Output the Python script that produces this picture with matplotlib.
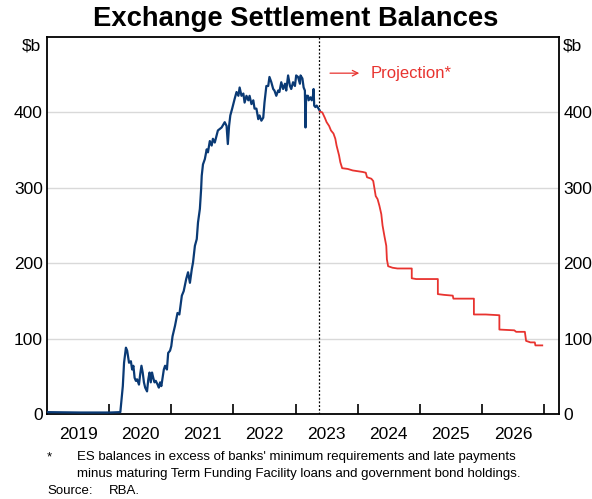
import numpy as np
import matplotlib.pyplot as plt

# ------------------------------------------------------------
# Data (decimal years, $b)
# ------------------------------------------------------------

actual_year = [
    2019.00, 2019.53, 2020.02, 2020.18, 2020.22, 2020.24, 2020.27, 2020.29,
    2020.32, 2020.35, 2020.37, 2020.39, 2020.41, 2020.43, 2020.45, 2020.48,
    2020.50, 2020.52, 2020.54, 2020.56, 2020.58, 2020.61, 2020.63, 2020.65,
    2020.67, 2020.69, 2020.71, 2020.73, 2020.75, 2020.78, 2020.80, 2020.82,
    2020.84, 2020.86, 2020.88, 2020.90, 2020.93, 2020.95, 2020.98, 2021.00,
    2021.02, 2021.06, 2021.10, 2021.13, 2021.17, 2021.20, 2021.24, 2021.27,
    2021.30, 2021.33, 2021.35, 2021.38, 2021.41, 2021.43, 2021.46, 2021.48,
    2021.49, 2021.51, 2021.54, 2021.57, 2021.59, 2021.62, 2021.65, 2021.67,
    2021.70, 2021.75, 2021.81, 2021.86, 2021.89, 2021.91, 2021.93, 2021.95,
    2021.98, 2022.02, 2022.05, 2022.08, 2022.10, 2022.13, 2022.16, 2022.18,
    2022.21, 2022.24, 2022.26, 2022.29, 2022.32, 2022.34, 2022.37, 2022.40,
    2022.42, 2022.45, 2022.48, 2022.50, 2022.53, 2022.56, 2022.58, 2022.61,
    2022.64, 2022.66, 2022.69, 2022.72, 2022.74, 2022.77, 2022.80, 2022.83,
    2022.85, 2022.88, 2022.91, 2022.93, 2022.96, 2022.99, 2023.01, 2023.04,
    2023.07, 2023.08, 2023.11, 2023.13, 2023.15, 2023.16, 2023.17, 2023.20,
    2023.21, 2023.24, 2023.26, 2023.28, 2023.29, 2023.30, 2023.32, 2023.34,
    2023.37, 2023.39,
]
actual_value = [
    2.5, 2, 2, 2.5, 37, 68, 88, 84,
    68, 70, 59, 64, 48, 44, 46, 39,
    53, 64, 55, 42, 35, 30, 46, 55,
    42, 55, 48, 42, 44, 39, 35, 42,
    37, 48, 59, 64, 59, 81, 84, 90,
    103, 117, 134, 132, 157, 163, 179, 188,
    174, 192, 201, 223, 232, 254, 272, 298,
    316, 331, 338, 351, 347, 362, 356, 365,
    360, 376, 380, 387, 382, 358, 382, 396,
    405, 418, 427, 422, 433, 422, 425, 413,
    422, 416, 422, 411, 416, 405, 405, 391,
    396, 389, 393, 413, 435, 435, 447, 440,
    431, 429, 422, 429, 427, 440, 431, 438,
    429, 449, 435, 431, 440, 435, 449, 447,
    438, 449, 445, 433, 429, 380, 422, 422,
    416, 420, 416, 422, 431, 409, 407, 409,
    405, 402,
]

proj_year = [
    2023.39, 2023.43, 2023.47, 2023.50, 2023.54, 2023.57, 2023.61, 2023.64,
    2023.66, 2023.70, 2023.72, 2023.75, 2023.84, 2023.92, 2024.08, 2024.13,
    2024.15, 2024.22, 2024.25, 2024.29, 2024.32, 2024.35, 2024.38, 2024.40,
    2024.43, 2024.46, 2024.47, 2024.49, 2024.56, 2024.64, 2024.87, 2024.87,
    2024.94, 2025.29, 2025.29, 2025.39, 2025.53, 2025.54, 2025.87, 2025.87,
    2026.06, 2026.28, 2026.28, 2026.52, 2026.55, 2026.69, 2026.71, 2026.78,
    2026.85, 2026.86, 2026.97,
]
proj_value = [
    401, 400, 393, 387, 382, 376, 372, 365,
    356, 343, 334, 326, 325, 323, 321, 320,
    314, 312, 309, 289, 285, 276, 265, 250,
    236, 223, 205, 196, 194, 193, 193, 180,
    179, 179, 159, 158, 157, 153, 153, 132,
    132, 131, 112, 111, 109, 109, 97, 95,
    95, 91, 91,
]

projection_start = 2023.38
years = list(range(2019, 2027))
y_ticks = [0, 100, 200, 300, 400]

blue = "#0a3a75"
red = "#e8332f"

plt.rcParams["font.family"] = ["Liberation Sans", "DejaVu Sans"]

# ------------------------------------------------------------
# Plot
# ------------------------------------------------------------

fig = plt.figure(figsize=(5.92, 4.99), dpi=100)
ax = fig.add_axes([0.0794, 0.1703, 0.8649, 0.7556])

for yv in y_ticks[1:]:
    ax.axhline(yv, color="#d9d9d9", lw=1.0, zorder=0)

ax.plot(actual_year, actual_value, color=blue, lw=1.6, zorder=3)
ax.plot(proj_year, proj_value, color=red, lw=1.3, zorder=3)
ax.axvline(projection_start, color="black", lw=0.9, ls=(0, (1.5, 1.5)), zorder=2)

ax.set_xlim(2019.0, 2027.24)
ax.set_ylim(0, 500)

# x axis: ticks at year boundaries, labels mid-year
ax.set_xticks([y + 1 for y in years])
ax.set_xticklabels([])
ax.set_xticks([y + 0.5 for y in years], minor=True)
ax.set_xticklabels([str(y) for y in years], minor=True, fontsize=12.5)
ax.tick_params(axis="x", which="major", direction="in", length=7, width=1.2)
ax.tick_params(axis="x", which="minor", length=0, pad=9)

# y axis labels on both sides, no ticks
ax.set_yticks(y_ticks)
ax.set_yticklabels([str(v) for v in y_ticks], fontsize=12.5)
ax.tick_params(axis="y", which="both", length=0, pad=3,
               labelleft=True, labelright=True)

for side in ["left", "right", "top", "bottom"]:
    ax.spines[side].set_linewidth(1.3)

ax.text(-0.012, 0.975, "$b", transform=ax.transAxes, ha="right", va="center",
        fontsize=12.5)
ax.text(1.008, 0.975, "$b", transform=ax.transAxes, ha="left", va="center",
        fontsize=12.5)

# projection annotation
ax.annotate("", xy=(2024.07, 452), xytext=(2023.51, 452),
            arrowprops=dict(arrowstyle="->", color=red, lw=0.9))
ax.text(2024.21, 452, "Projection*", color=red, fontsize=12, va="center",
        ha="left")

fig.text(0.5, 0.962, "Exchange Settlement Balances", ha="center", va="center",
         fontsize=19.7, fontweight="bold")

fig.text(0.0794, 0.084, "*", fontsize=9.5, va="center")
fig.text(0.130, 0.084, "ES balances in excess of banks' minimum requirements and late payments",
         fontsize=9.5, va="center")
fig.text(0.130, 0.051, "minus maturing Term Funding Facility loans and government bond holdings.",
         fontsize=9.5, va="center")
fig.text(0.0794, 0.016, "Source:", fontsize=9.5, va="center")
fig.text(0.184, 0.016, "RBA.", fontsize=9.5, va="center")

fig.savefig("out.png", dpi=100)
